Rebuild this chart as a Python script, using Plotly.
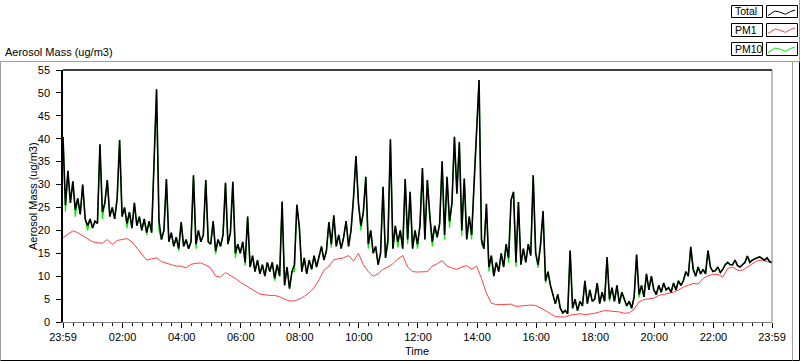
import plotly.graph_objects as go

# ---------------- data ----------------
# Total aerosol mass, one value every 5 minutes from 23:59 to 23:59 next day
total = [
    40.4, 25.5, 33, 26, 30.7, 24.5, 27, 23.5, 30, 22.5, 21, 22.5,
    20.5, 22, 21.5, 38.8, 24, 26, 31, 23, 25, 22.5, 27, 39.7,
    23, 25, 21.5, 24, 20.5, 26, 21, 23, 20, 22.5, 19.5, 22,
    19.5, 34, 50.8, 22, 18, 20, 31.2, 17.5, 19.5, 16.5, 18.5, 16,
    21.8, 16.5, 18, 16, 17.5, 32, 17, 20, 17.5, 19, 31, 17.5,
    17, 22, 15.5, 18, 16.5, 19, 30.4, 17, 19.5, 30.6, 15, 17,
    15, 17.5, 13, 23, 12, 14.5, 11, 13.5, 10.5, 12.5, 10, 13,
    11, 13, 9.5, 12.5, 10, 26.3, 8, 12, 7.3, 11, 12.5, 25.6,
    20.7, 11, 14, 10.5, 13.5, 11.5, 14.5, 12, 14, 16.5, 13.5, 15.5,
    21.8, 17, 23.3, 16.5, 19, 16, 18.5, 22, 16.5, 20, 27, 36.2,
    26, 21, 24, 31.7, 17, 20, 15, 16.5, 12.5, 15, 29.5, 14,
    18, 39.9, 16, 21, 17.5, 20, 16, 31.2, 18, 28.4, 16, 20,
    17, 21, 33.6, 18, 31, 23, 17.5, 21, 18.5, 21.5, 35.1, 19,
    31.7, 22, 26, 40.4, 28, 39.3, 20, 31.3, 18, 23, 19, 31,
    41.5, 52.8, 18, 16, 25.8, 12, 14.5, 10, 13, 11, 15, 12,
    17, 14, 26.6, 28.4, 13, 26.2, 12.5, 16, 13, 17, 14.5, 32,
    15, 12.5, 17, 24.2, 9, 11, 8, 6, 4, 6, 3, 2,
    2.5, 1.8, 15.6, 3, 5, 2.5, 4.5, 3.5, 9, 4, 7, 4.5,
    5, 8.5, 4, 6.5, 4.5, 14.2, 5, 7.5, 4.5, 8, 4, 6.5,
    5, 3.5, 4.5, 3, 5.5, 14.7, 6, 8, 5.5, 10.5, 7, 10,
    7, 6, 8, 6.5, 8.5, 7, 7.5, 6.5, 8.5, 7, 9, 8,
    9, 11, 10, 16.4, 11.5, 10, 12, 10.5, 11.5, 10.5, 15.6, 12,
    11, 11.2, 12, 10.8, 11.5, 12.5, 13, 12.5, 12.5, 13.5, 12.3, 12,
    12.5, 13, 14.4, 13, 13.5, 13.8, 14, 14.2, 13.8, 13.5, 14, 13.2,
    13,
]

# PM10, same 5-minute grid
pm10 = [
    40.4, 24, 33, 26, 30.7, 23, 27, 23.5, 30, 22.5, 20, 22.5,
    20.5, 22, 21.5, 38.8, 22.5, 26, 31, 23, 25, 22.5, 27, 39.7,
    23, 25, 20.5, 24, 20.5, 26, 21, 23, 20, 22.5, 19, 22,
    19.5, 34, 50.8, 20, 18, 20, 31.2, 17.5, 19.5, 16.5, 18.5, 15.5,
    21.8, 16.5, 18, 16, 17.5, 32, 16, 20, 17.5, 19, 31, 17.5,
    17, 22, 14.8, 18, 16.5, 19, 30.4, 17, 19.5, 30.6, 14, 17,
    15, 17.5, 12.3, 23, 12, 14.5, 11, 13.5, 10.5, 12.5, 10, 13,
    11, 13, 9, 12.5, 10, 26.3, 8, 12, 7.3, 11, 11, 25.6,
    20.7, 11, 14, 10.5, 13.5, 11.5, 14.5, 12, 14, 16.5, 13.5, 15.5,
    21.8, 16.2, 23.3, 16.5, 19, 16, 18.5, 22, 16.5, 20, 27, 36.2,
    26, 20, 24, 31.7, 16, 20, 15, 16.5, 12.5, 15, 29.5, 14,
    17, 39.9, 16, 21, 16.2, 20, 16, 31.2, 17, 28.4, 16, 20,
    16, 21, 33.6, 18, 31, 23, 16.5, 21, 18.5, 21.5, 35.1, 18,
    31.7, 20.5, 26, 40.4, 28, 39.3, 18.8, 31.3, 18, 23, 18, 31,
    41.5, 52.8, 17, 16, 25.8, 11, 14.5, 10, 13, 11, 15, 12,
    17, 13, 26.6, 28.4, 12, 26.2, 12.5, 16, 13, 17, 14.5, 32,
    15, 11.8, 17, 24.2, 8.5, 11, 8, 6, 4, 6, 3, 2,
    2.5, 1.8, 15.6, 3, 5, 2.5, 4.5, 3.5, 9, 4, 7, 4.5,
    5, 8.5, 4, 6.5, 4.5, 14.2, 4.5, 7.5, 4.5, 8, 4, 6.5,
    5, 3.5, 4.5, 3, 5.5, 14.7, 5.3, 8, 5.5, 10.5, 7, 10,
    7, 6, 8, 6.5, 8.5, 7, 7.5, 6.5, 8.5, 7, 9, 8,
    9, 11, 10, 16.4, 11.5, 10, 12, 10.5, 11.5, 10.5, 15.6, 12,
    11, 11.2, 12, 10.8, 11.5, 12.5, 13, 12.5, 12.5, 13.5, 12.3, 12,
    12.5, 13, 14.4, 13, 13.5, 13.8, 14, 14.2, 13.8, 13.5, 14, 13.2,
    13,
]

# PM1, one value every 10 minutes
pm1 = [
    18.4, 19.2, 19.9, 19.5, 18.8, 18.2,
    17.5, 17.3, 17.2, 18.0, 16.9, 17.8,
    18.0, 18.2, 17.5, 16.2, 14.8, 13.5,
    13.8, 14.0, 13.2, 12.8, 12.5, 12.2,
    12.2, 11.8, 12.6, 12.8, 12.9, 12.4,
    11.8, 10.0, 9.8, 10.8, 10.2, 9.5,
    8.7, 8.0, 7.3, 6.7, 6.1, 5.9,
    5.8, 5.8, 5.5, 5.0, 4.6, 4.6,
    5.0, 5.6, 6.4, 7.5, 9.2, 11.3,
    12.2, 13.6, 13.8, 14.0, 14.5, 13.3,
    15.0, 12.5, 11.0, 10.0, 10.5, 11.5,
    12.0, 12.7, 13.8, 14.5, 12.0, 11.0,
    10.9, 10.9, 11.0, 12.2, 12.7, 13.4,
    12.2, 11.8, 11.5, 12.0, 12.3, 11.5,
    12.2, 9.5, 6.3, 4.1, 3.8, 3.8,
    3.8, 3.9, 3.4, 3.5, 3.7, 3.7,
    3.6, 3.1, 2.5, 1.8, 1.2, 1.1,
    1.1, 1.5, 1.7, 1.8, 1.6, 1.7,
    1.9, 2.2, 2.5, 2.4, 2.3, 2.2,
    1.9, 2.0, 2.8, 4.4, 4.9, 5.1,
    5.2, 5.8, 6.0, 6.2, 6.5, 7.0,
    7.6, 8.0, 8.4, 8.3, 9.5, 10.1,
    10.4, 10.4, 9.8, 11.7, 12.0, 11.3,
    11.3, 12.0, 12.7, 13.4, 13.5, 13.2,
    12.9,
]

# time axis in minutes after 23:59
t_total = [5 * i for i in range(len(total))]
t_pm10 = [5 * i for i in range(len(pm10))]
t_pm1 = [10 * i for i in range(len(pm1))]

tick_minutes = [0, 121, 241, 361, 481, 601, 721, 841, 961, 1081, 1201, 1321, 1440]
tick_labels = ["23:59", "02:00", "04:00", "06:00", "08:00", "10:00", "12:00",
               "14:00", "16:00", "18:00", "20:00", "22:00", "23:59"]

series_names = ["Total", "PM1", "PM10"]
series_colors = ["#000000", "#ff4040", "#00ee00"]

# ---------------- figure ----------------
W, H = 800, 361
L, R, T, B = 63, 28, 70, 39
PW, PH = W - L - R, H - T - B
FONT = "Liberation Sans"


def px(x, y):
    return (x - L) / PW, (H - B - y) / PH


fig = go.Figure()
fig.add_trace(go.Scatter(x=t_pm10, y=pm10, mode="lines", name="PM10",
                         line=dict(color=series_colors[2], width=1.2)))
fig.add_trace(go.Scatter(x=t_pm1, y=pm1, mode="lines", name="PM1",
                         line=dict(color=series_colors[1], width=1)))
fig.add_trace(go.Scatter(x=t_total, y=total, mode="lines", name="Total",
                         line=dict(color=series_colors[0], width=1.6)))

shapes = []
# plot frame: top/left black, right gray
shapes.append(dict(type="line", xref="paper", yref="paper", x0=0, x1=1, y0=1, y1=1,
                   line=dict(color="black", width=1.5)))
shapes.append(dict(type="line", xref="paper", yref="paper", x0=1, x1=1, y0=0, y1=1,
                   line=dict(color="#808080", width=1)))
# outer panel frame
x_l, y_t = px(0.5, 61.5)
x_r, y_b = px(799.5, 360.5)
x_g, _ = px(792.5, 0)
shapes.append(dict(type="line", xref="paper", yref="paper", x0=x_l, x1=x_r, y0=y_t, y1=y_t,
                   line=dict(color="#a0a0a0", width=1)))
shapes.append(dict(type="line", xref="paper", yref="paper", x0=x_l, x1=x_l, y0=y_b, y1=y_t,
                   line=dict(color="#a0a0a0", width=1)))
shapes.append(dict(type="line", xref="paper", yref="paper", x0=x_l, x1=x_r, y0=y_b, y1=y_b,
                   line=dict(color="black", width=1)))
shapes.append(dict(type="line", xref="paper", yref="paper", x0=x_r, x1=x_r, y0=y_b, y1=y_t,
                   line=dict(color="black", width=1)))
shapes.append(dict(type="line", xref="paper", yref="paper", x0=x_g, x1=x_g, y0=y_b, y1=y_t,
                   line=dict(color="#a0a0a0", width=1)))
_, y0_top = px(0, 0)
shapes.append(dict(type="line", xref="paper", yref="paper", x0=x_r, x1=x_r, y0=y_t, y1=y0_top,
                   line=dict(color="#a0a0a0", width=1)))

annotations = []
# legend boxes
rows = [(5.5, 17.5), (23.5, 36.5), (42.5, 55.5)]
zig = [(1.5, 10), (8.5, 5.5), (13, 6.5), (19, 8.8), (24, 6), (28.5, 4.5)]
for (ya, yb), name, col in zip(rows, series_names, series_colors):
    x0, y0 = px(731.5, yb)
    x1, y1 = px(762.5, ya)
    shapes.append(dict(type="rect", xref="paper", yref="paper", x0=x0, x1=x1, y0=y0, y1=y1,
                       line=dict(color="black", width=1), fillcolor="white"))
    x0, y0 = px(766.5, yb)
    x1, y1 = px(797.5, ya)
    shapes.append(dict(type="rect", xref="paper", yref="paper", x0=x0, x1=x1, y0=y0, y1=y1,
                       line=dict(color="black", width=1), fillcolor="white"))
    pts = [px(766.5 + dx, ya + dy) for dx, dy in zig]
    path = "M " + " L ".join(f"{a:.5f},{b:.5f}" for a, b in pts)
    shapes.append(dict(type="path", xref="paper", yref="paper", path=path,
                       line=dict(color=col, width=1)))
    tx, ty = px(733, (ya + yb) / 2)
    annotations.append(dict(text=name, xref="paper", yref="paper", x=tx, y=ty,
                            xanchor="left", yanchor="middle", showarrow=False,
                            font=dict(family=FONT, size=10.5, color="black")))

# panel caption and axis titles
cx, cy = px(3, 52)
annotations.append(dict(text="Aerosol Mass (ug/m3)", xref="paper", yref="paper", x=cx, y=cy,
                        xanchor="left", yanchor="middle", showarrow=False,
                        font=dict(family=FONT, size=11, color="black")))
ax_, ay_ = px(33, 196)
annotations.append(dict(text="Aerosol Mass (ug/m3)", xref="paper", yref="paper", x=ax_, y=ay_,
                        xanchor="center", yanchor="middle", textangle=-90, showarrow=False,
                        font=dict(family=FONT, size=11, color="black")))
bx, by = px(417, 351)
annotations.append(dict(text="Time", xref="paper", yref="paper", x=bx, y=by,
                        xanchor="center", yanchor="middle", showarrow=False,
                        font=dict(family=FONT, size=11, color="black")))

fig.update_layout(
    width=W, height=H,
    margin=dict(l=L, r=R, t=T, b=B, pad=0),
    paper_bgcolor="white", plot_bgcolor="white",
    showlegend=False,
    font=dict(family=FONT, size=11, color="black"),
    shapes=shapes, annotations=annotations,
    xaxis=dict(range=[0, 1440], tickmode="array", tickvals=tick_minutes, ticktext=tick_labels,
               ticks="outside", ticklen=5, tickcolor="black", tickwidth=1,
               showline=True, linecolor="#808080", linewidth=1,
               showgrid=False, zeroline=False,
               minor=dict(tickmode="linear", tick0=1, dtick=20, ticks="outside",
                          ticklen=3, tickcolor="black", tickwidth=1, showgrid=False),
               tickfont=dict(family=FONT, size=11, color="black")),
    yaxis=dict(range=[0, 55], tickmode="linear", tick0=0, dtick=5,
               ticks="outside", ticklen=5, tickcolor="black", tickwidth=1,
               ticklabelstandoff=4,
               showline=True, linecolor="black", linewidth=1.5,
               showgrid=False, zeroline=False,
               tickfont=dict(family=FONT, size=11, color="black")),
)

fig.write_html("out.html", config={"displayModeBar": False},
               post_script="document.body.style.margin='0';document.body.style.overflow='hidden';")
